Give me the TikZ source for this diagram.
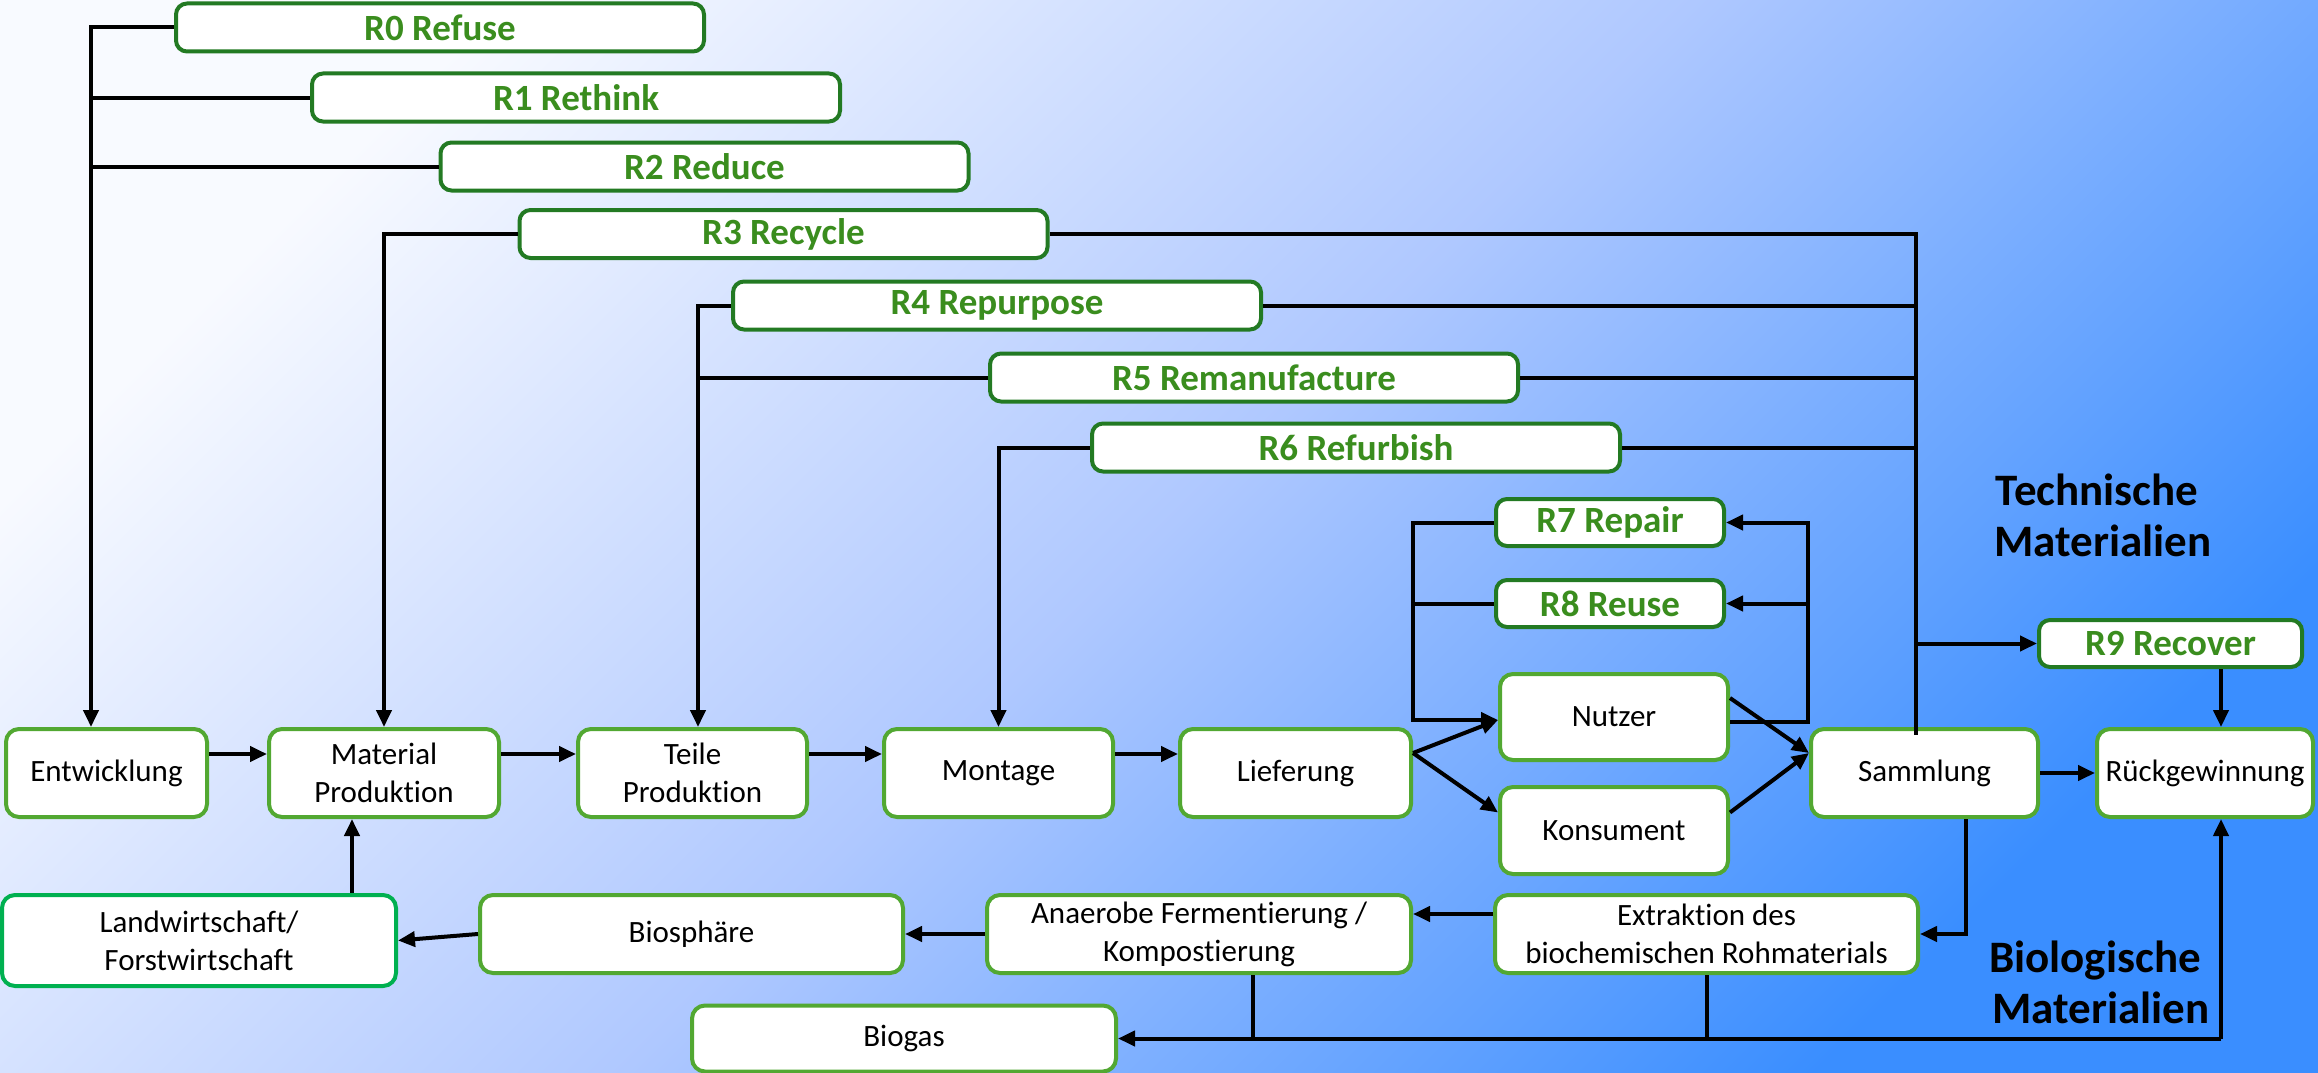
\documentclass[tikz,border=0pt]{standalone}
\usepackage{fontspec}
\setmainfont{Carlito}[Ligatures={NoCommon}]
\usetikzlibrary{arrows.meta,calc}
\definecolor{rborder}{HTML}{237A23}
\definecolor{rtext}{HTML}{3A8D1E}
\definecolor{bborder}{HTML}{52A832}
\definecolor{lborder}{HTML}{00B050}
\definecolor{bgA}{HTML}{F8FAFF}
\definecolor{bgM}{HTML}{AFC8FF}
\definecolor{bgB}{HTML}{3A8EFF}
\begin{document}
\begin{tikzpicture}[x=1pt,y=-1pt,
 rbox/.style={draw=rborder, line width=4pt, fill=white, rounded corners=11pt, minimum width=528pt, minimum height=48pt, inner sep=0pt, text=rtext, font=\fontsize{37}{40}\selectfont\bfseries},
 pbox/.style={draw=bborder, line width=4pt, fill=white, rounded corners=13pt, align=center, inner sep=2pt, font=\fontsize{31}{38}\selectfont},
 ln/.style={line width=4pt, draw=black},
 arr/.style={ln, -{Triangle[length=17pt,width=15pt]}},
 lbl/.style={align=center, font=\fontsize{45}{51}\selectfont\bfseries}
]
\shade[top color=bgA, bottom color=bgB, middle color=bgM, shading angle=45] (0,0) rectangle (2318,1073);
\useasboundingbox (0,0) rectangle (2318,1073);

% R boxes
\node[rbox] (R0) at (440,27.5) {R0 Refuse};
\node[rbox] (R1) at (576,97.5) {R1 Rethink};
\node[rbox] (R2) at (704.5,166.5) {R2 Reduce};
\node[rbox] (R3) at (783.5,234) {R3 Recycle};
\node[rbox] (R4) at (997,305.5) {R4 Repurpose};
\node[rbox] (R5) at (1254,377.5) {R5 Remanufacture};
\node[rbox] (R6) at (1356,447.5) {R6 Refurbish};
\node[rbox, minimum width=228pt, minimum height=47pt] (R7) at (1610,522.5) {R7 Repair};
\node[rbox, minimum width=228pt, minimum height=47pt] (R8) at (1610,603.5) {R8 Reuse};
\node[rbox, minimum width=263pt, minimum height=47pt] (R9) at (2170.5,643.5) {R9 Recover};

% process boxes
\node[pbox, minimum width=201pt, minimum height=88pt] (ent) at (106.5,773) {Entwicklung};
\node[pbox, minimum width=230pt, minimum height=88pt] (mat) at (384,773) {Material\\Produktion};
\node[pbox, minimum width=229pt, minimum height=88pt] (teile) at (692.5,773) {Teile\\Produktion};
\node[pbox, minimum width=229pt, minimum height=88pt] (mont) at (998.5,773) {Montage};
\node[pbox, minimum width=231pt, minimum height=88pt] (lief) at (1295.5,773) {Lieferung};
\node[pbox, minimum width=228pt, minimum height=86pt] (nutz) at (1614,717) {Nutzer};
\node[pbox, minimum width=228pt, minimum height=87pt] (kons) at (1614,830.5) {Konsument};
\node[pbox, minimum width=227pt, minimum height=88pt] (samm) at (1924.5,773) {Sammlung};
\node[pbox, minimum width=216pt, minimum height=88pt] (rueck) at (2205,773) {Rückgewinnung};
\node[pbox, draw=lborder, minimum width=394pt, minimum height=91pt] (land) at (199,940.5) {Landwirtschaft/\\Forstwirtschaft};
\node[pbox, minimum width=423pt, minimum height=78pt] (bio) at (691.5,934) {Biosphäre};
\node[pbox, minimum width=424pt, minimum height=78pt] (anaer) at (1199,934) {Anaerobe Fermentierung /\\Kompostierung};
\node[pbox, minimum width=423pt, minimum height=78pt] (extr) at (1706.5,934) {Extraktion des\\biochemischen Rohmaterials};
\node[pbox, minimum width=424pt, minimum height=66pt] (biogas) at (904,1038.5) {Biogas};

\node[lbl] (tech) at (2097,515) {Technische\\\hspace*{12pt}Materialien};
\node[lbl] (biol) at (2095,982) {Biologische\\\hspace*{12pt}Materialien};

% bus coordinates
\coordinate (bL) at (91,0);
\coordinate (b4) at (698,0);
\coordinate (bR) at (1916,0);
\coordinate (b7L) at (1413,0);
\coordinate (b7R) at (1808,0);
\coordinate (bB) at (2221,0);
\coordinate (c352) at (352,0);
\coordinate (aS) at ([xshift=54pt]anaer.south);

% top connectors
\draw[arr] (R0.west) -- (R0.west -| bL) -- (ent.north -| bL);
\draw[ln] (R1.west) -- (R1.west -| bL);
\draw[ln] (R2.west) -- (R2.west -| bL);
\draw[arr] (R3.west) -| (mat.north);
\draw[arr] (R4.west) -- (R4.west -| b4) -- (teile.north -| b4);
\draw[ln] (R5.west) -- (R5.west -| b4);
\draw[arr] (R6.west) -| (mont.north);
\draw[ln] (R3.east) -- (R3.east -| bR) -- ([yshift=-8pt]samm.north -| bR);
\draw[ln] (R4.east) -- (R4.east -| bR);
\draw[ln] (R5.east) -- (R5.east -| bR);
\draw[ln] (R6.east) -- (R6.east -| bR);
\draw[arr] (R9.west -| bR) -- (R9.west);
\draw[arr] (R9.south -| bB) -- (rueck.north -| bB);

% main flow
\draw[arr] ([yshift=19pt]ent.east) -- ([yshift=19pt]mat.west);
\draw[arr] ([yshift=19pt]mat.east) -- ([yshift=19pt]teile.west);
\draw[arr] ([yshift=19pt]teile.east) -- ([yshift=19pt]mont.west);
\draw[arr] ([yshift=19pt]mont.east) -- ([yshift=19pt]lief.west);
\draw[arr] ([yshift=20pt]lief.east) -- ([yshift=-3pt]nutz.west);
\draw[arr] ([yshift=20pt]lief.east) -- ([yshift=18pt]kons.west);
\draw[arr] ([yshift=19pt]nutz.east) -- ([yshift=20pt]samm.west);
\draw[arr] ([yshift=18pt]kons.east) -- ([yshift=20pt]samm.west);

% repair / reuse loops
\draw[arr] ([yshift=-5pt]nutz.east) -- ([yshift=-5pt]nutz.east -| b7R) -- (R7.east -| b7R) -- (R7.east);
\draw[arr] (R8.east -| b7R) -- (R8.east);
\draw[arr] (R7.west) -- (R7.west -| b7L) -- ([yshift=-3pt]nutz.west -| b7L) -- ([yshift=-3pt]nutz.west);
\draw[ln] (R8.west) -- (R8.west -| b7L);

% recovery and biological cycle
\draw[arr] (samm.east) -- (rueck.west);
\draw[arr] ([xshift=41.5pt]samm.south) |- (extr.east);
\draw[arr] ([yshift=20pt]extr.west) -- ([yshift=20pt]anaer.east);
\draw[arr] (anaer.west) -- (bio.east);
\draw[arr] (bio.west) -- (land.east);
\draw[arr] (land.north -| c352) -- (mat.south -| c352);
\draw[ln] (aS) -- (aS |- biogas.east);
\draw[ln] (extr.south) -- (extr.south |- biogas.east);
\draw[arr] (biogas.east -| bB) -- (biogas.east);
\draw[arr] (biogas.east -| bB) -- (rueck.south -| bB);
\end{tikzpicture}
\end{document}
